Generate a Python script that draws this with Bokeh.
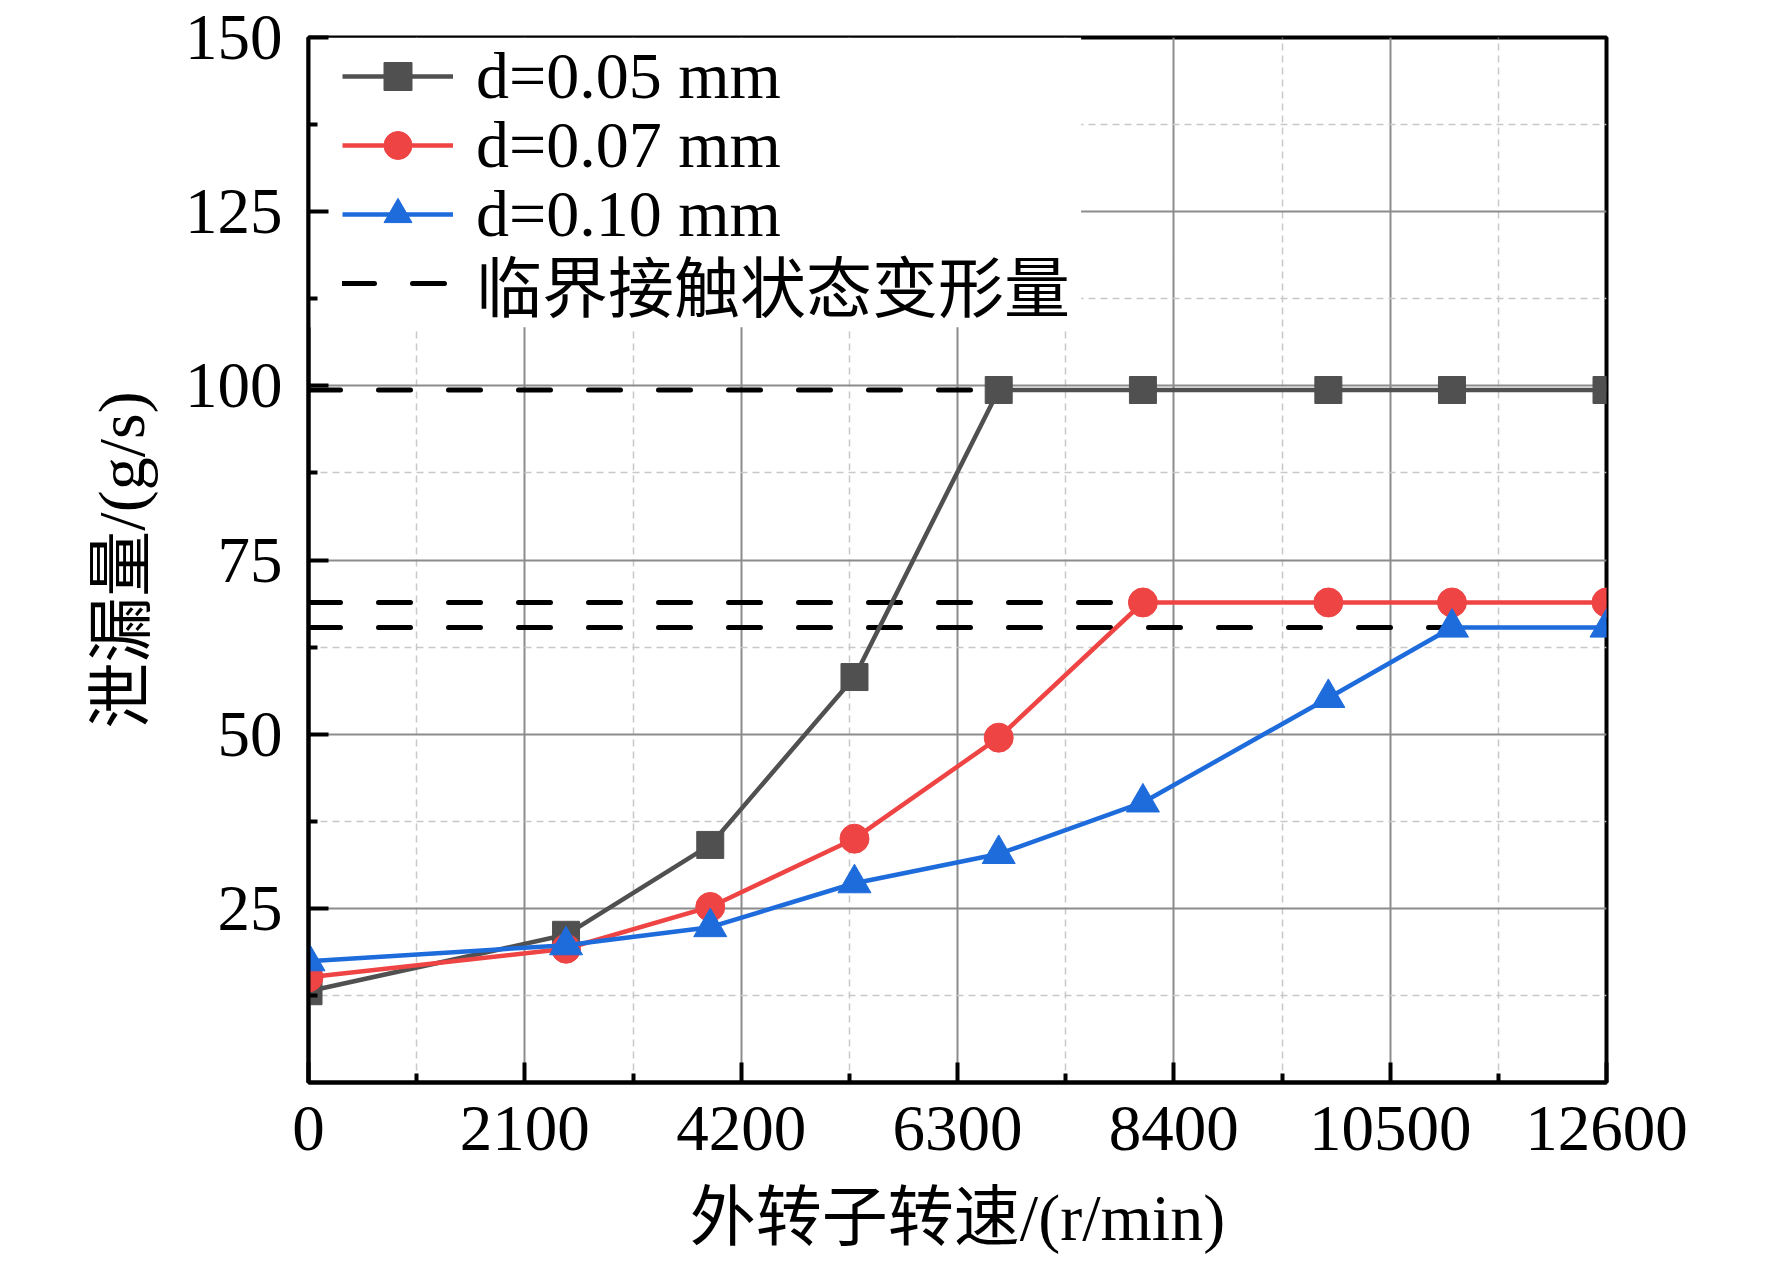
from bokeh.plotting import figure
from bokeh.models import Range1d, FixedTicker, Legend, LegendItem, BoxAnnotation, ColumnDataSource
from bokeh.embed import file_html
from bokeh.resources import INLINE

# ---------------- data ----------------
speed = [0, 2500, 3900, 5300, 6700, 8100, 9900, 11100, 12600]
leak_d005 = [13.1, 21.2, 34.1, 58.2, 99.4, 99.4, 99.4, 99.4, 99.4]
leak_d007 = [15.1, 19.2, 25.2, 35.0, 49.5, 68.9, 68.9, 68.9, 68.9]
leak_d010 = [17.4, 19.7, 22.3, 28.6, 32.8, 40.2, 55.2, 65.3, 65.3]
series_labels = ["d=0.05 mm", "d=0.07 mm", "d=0.10 mm"]
crit_label = "临界接触状态变形量"
crit_values = [99.4, 68.9, 65.3]
crit_start = [0, 0, 0]
crit_end = [6700, 8100, 11100]

x_ticks = [0, 2100, 4200, 6300, 8400, 10500, 12600]
x_minor = [1050, 3150, 5250, 7350, 9450, 11550]
y_ticks = [25, 50, 75, 100, 125, 150]
y_minor = [12.5, 37.5, 62.5, 87.5, 112.5, 137.5]
x_title = "外转子转速/(r/min)"
y_title = "泄漏量/(g/s)"

# ---------------- style ----------------
SERIF = "Liberation Serif, Noto Sans CJK SC"
GRAY = "#505050"
RED = "#EF4444"
BLUE = "#1E6BDC"

p = figure(frame_width=1298, frame_height=1045,
           x_range=Range1d(0, 12600), y_range=Range1d(0, 150),
           output_backend="svg", toolbar_location=None,
           min_border_left=308, min_border_right=150,
           min_border_top=37, min_border_bottom=0,
           background_fill_color="white", border_fill_color="white")

p.outline_line_color = "black"
p.outline_line_width = 4
p.outline_line_alpha = 1

for ax, ticks, minor in ((p.xaxis[0], x_ticks, x_minor), (p.yaxis[0], y_ticks, y_minor)):
    ax.ticker = FixedTicker(ticks=ticks, minor_ticks=minor)
    ax.axis_line_width = 4
    ax.axis_line_color = "black"
    ax.major_tick_in = 20
    ax.major_tick_out = 0
    ax.minor_tick_in = 9
    ax.minor_tick_out = 0
    ax.major_tick_line_width = 4
    ax.minor_tick_line_width = 4
    ax.major_tick_line_color = "black"
    ax.minor_tick_line_color = "black"
    ax.major_label_text_font = "Liberation Serif"
    ax.major_label_text_font_size = "65px"
    ax.major_label_text_color = "black"
    ax.axis_label_text_font = SERIF
    ax.axis_label_text_font_size = "66px"
    ax.axis_label_text_font_style = "normal"
    ax.axis_label_text_color = "black"

p.xaxis.axis_label = x_title
p.yaxis.axis_label = y_title
p.xaxis.major_label_standoff = 24
p.xaxis.axis_label_standoff = 28
p.yaxis.major_label_standoff = 26
p.yaxis.axis_label_standoff = 24

for g, ticks, minor in ((p.xgrid[0], x_ticks, x_minor), (p.ygrid[0], y_ticks, y_minor)):
    g.ticker = FixedTicker(ticks=ticks, minor_ticks=minor)
    g.grid_line_color = "#8c8c8c"
    g.grid_line_width = 2
    g.minor_grid_line_color = "#c8c8c8"
    g.minor_grid_line_width = 1.5
    g.minor_grid_line_dash = "7 5"

# white area behind the legend (hides the grid there)
p.add_layout(BoxAnnotation(right=7500, bottom=108.4, fill_color="white", fill_alpha=1,
                           line_color=None, level="underlay"))

# critical deformation dashed lines
crit_src = ColumnDataSource(dict(x0=crit_start, x1=crit_end, y=crit_values))
crit_r = p.segment(x0="x0", y0="y", x1="x1", y1="y", source=crit_src,
                   line_color="black", line_width=5, line_dash="32 38", line_cap="round")

items = []
for ys, color, marker, size, lab in ((leak_d005, GRAY, "square", 27, series_labels[0]),
                                     (leak_d007, RED, "circle", 29, series_labels[1]),
                                     (leak_d010, BLUE, "triangle", 33, series_labels[2])):
    src = ColumnDataSource(dict(x=speed, y=ys))
    lr = p.line("x", "y", source=src, line_color=color, line_width=4.5)
    sr = p.scatter("x", "y", source=src, marker=marker, size=size,
                   fill_color=color, line_color=color, line_width=1)
    items.append(LegendItem(label=lab, renderers=[lr, sr]))
items.append(LegendItem(label=crit_label, renderers=[crit_r]))

common = dict(padding=8, margin=0, spacing=0, glyph_width=111, glyph_height=70,
              label_standoff=23, label_text_font=SERIF, label_text_font_size="66px",
              label_text_color="black", background_fill_alpha=0, border_line_color=None)

# one legend box per entry, stacked (screen offsets from the frame's bottom-left)
legend_rows = [968, 899, 830, 751]
for item, row_y in zip(items, legend_rows):
    p.add_layout(Legend(items=[item], location=(34, row_y), **common))

open("out.html", "w").write(file_html(p, INLINE))
